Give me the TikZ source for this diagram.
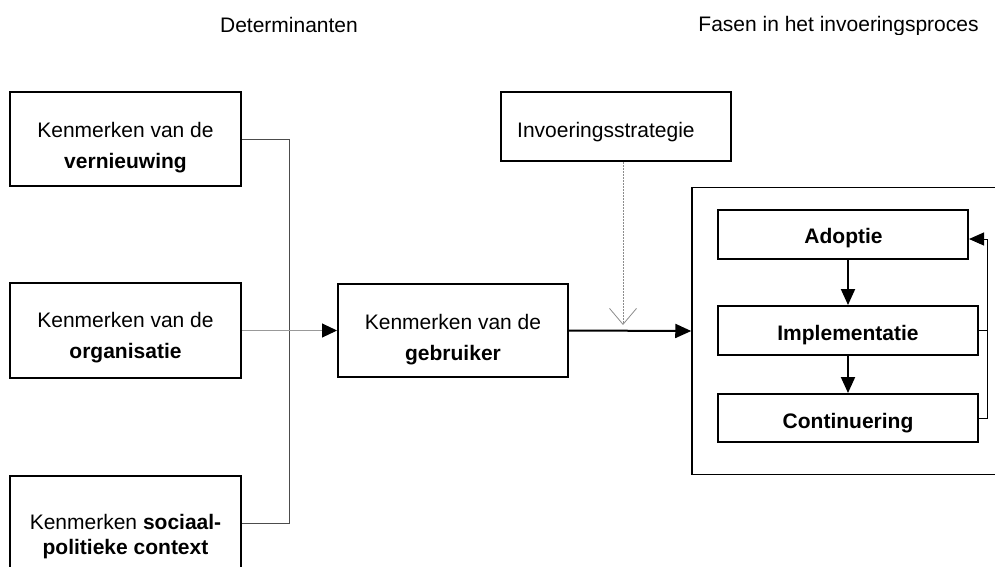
\documentclass[tikz,border=0pt]{standalone}
\usepackage{fontspec}
\setmainfont{Liberation Sans}
\usetikzlibrary{arrows.meta,calc}
\definecolor{darkline}{gray}{0.3}
\definecolor{lightline}{gray}{0.6}
\definecolor{dotline}{gray}{0.55}
\begin{document}
\begin{tikzpicture}[x=1pt,y=-1pt,
  stepbox/.style={draw, line width=2pt, inner sep=0pt},
  txt/.style={font=\fontsize{21}{25}\selectfont, inner sep=0pt, anchor=base},
  thinline/.style={draw=darkline, line width=1pt},
  greyline/.style={draw=lightline, line width=1pt},
  boldarrow/.style={line width=2pt, -{Triangle[length=16pt,width=14pt]}},
  fbline/.style={line width=1pt}
]
\clip (0,0) rectangle (995,566);
% titles
\node[txt] (det) at (289,32) {Determinanten};
\begin{scope}
  \clip (680,0) rectangle (995,34);
  \node[txt] (fasen) at (838.5,31.7) {Fasen in het invoeringsproces};
\end{scope}
% left boxes
\node[stepbox, minimum width=231, minimum height=94] (v) at (125.5,139) {};
\node[txt] (v1) at ($(v.center)+(0,-1.7)$) {Kenmerken van de};
\node[txt] (v2) at ($(v.center)+(0,29)$) {\textbf{vernieuwing}};
\node[stepbox, minimum width=231, minimum height=95] (o) at (125.5,330.5) {};
\node[txt] (o1) at ($(o.center)+(0,-3.2)$) {Kenmerken van de};
\node[txt] (o2) at ($(o.center)+(0,27.5)$) {\textbf{organisatie}};
\node[stepbox, minimum width=231, minimum height=94] (s) at (125.5,523) {};
\node[txt] (s1) at ($(s.center)+(0,6.3)$) {Kenmerken \textbf{sociaal-}};
\node[txt] (s2) at ($(s.center)+(0,31)$) {\textbf{politieke context}};
% user box
\node[stepbox, minimum width=230, minimum height=93] (g) at (453,330.5) {};
\node[txt] (g1) at ($(g.center)+(0,-1.2)$) {Kenmerken van de};
\node[txt] (g2) at ($(g.center)+(0,30)$) {\textbf{gebruiker}};
% strategy box
\node[stepbox, minimum width=230, minimum height=69] (inv) at (616,126.5) {};
\node[txt, anchor=base west] (inv1) at (517,137.3) {Invoeringsstrategie};
% phases
\node[draw, line width=1.5pt, inner sep=0pt, minimum width=320, minimum height=287] (big) at (852,331) {};
\node[stepbox, minimum width=250, minimum height=49] (a) at (843,234.5) {};
\node[txt] (a1) at (843.5,243.3) {\textbf{Adoptie}};
\node[stepbox, minimum width=260, minimum height=49] (i) at (848,330.5) {};
\node[txt] (i1) at (848,340) {\textbf{Implementatie}};
\node[stepbox, minimum width=260, minimum height=48] (c) at (848,418) {};
\node[txt] (c1) at (848,428.3) {\textbf{Continuering}};
% connectors from determinants
\coordinate (bt) at (289,139);
\coordinate (bb) at (289,523);
\draw[thinline] (v.east) -- (bt) -- (bb) -- (s.east);
\draw[greyline, -{Triangle[length=15pt,width=14pt,color=black]}] (o.east) -- (g.west);
\draw[boldarrow] (g.east) -- (big.west);
% strategy influence
\coordinate (vt) at (623,325);
\draw[draw=dotline, line width=0.8pt, dash pattern=on 1.5pt off 1.5pt,
  -{Straight Barb[length=16pt,width=27pt,line width=0.8pt]}] (inv.south -| vt) -- (vt);
% phase arrows
\draw[boldarrow] (a.south -| i.north) -- (i.north);
\draw[boldarrow] (i.south) -- (c.north);
\coordinate (fr) at (987,239);
\draw[fbline] (i.east) -- (i.east -| fr);
\draw[fbline, -{Triangle[length=15pt,width=13pt]}] (c.east) -- (c.east -| fr) -- (fr) -- (fr -| a.east);
\end{tikzpicture}
\end{document}
